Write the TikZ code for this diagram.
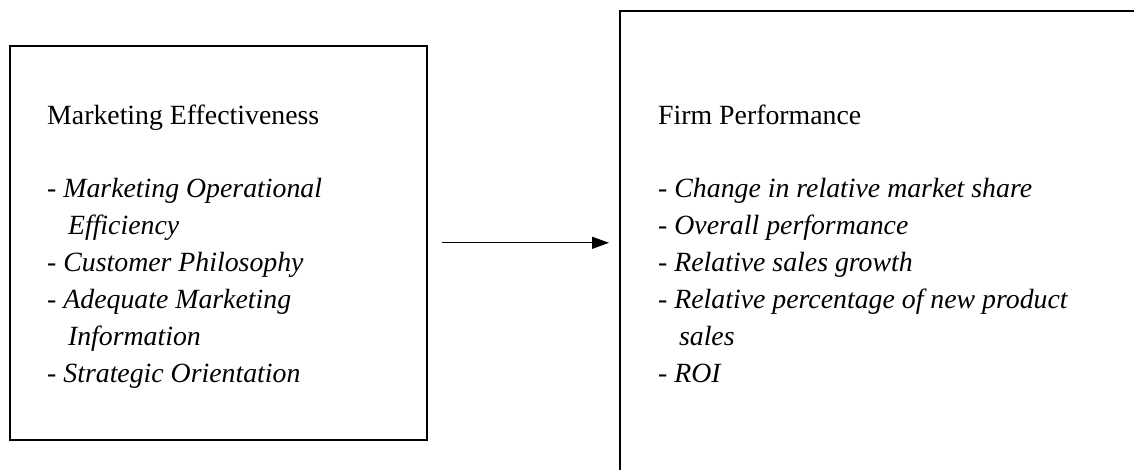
\documentclass[tikz,border=0pt]{standalone}
\usepackage{fontspec}
\setmainfont{Liberation Serif}
\usetikzlibrary{arrows.meta}
\begin{document}
\begin{tikzpicture}[x=1pt,y=-1pt,
  boxframe/.style={draw=black, line width=1.6pt, rectangle, inner sep=0pt, anchor=north west},
  head/.style={anchor=base west, inner sep=0pt, font=\fontsize{27.8}{36}\selectfont},
  item/.style={anchor=base west, inner sep=0pt, font=\fontsize{27.8}{36}\selectfont\itshape},
  link/.style={line width=1.3pt, -{Triangle[length=17pt,width=12pt]}}]
\useasboundingbox[fill=white] (0,0) rectangle (1134,469);
\clip (0,0) rectangle (1134,469);
\node[boxframe, minimum width=417pt, minimum height=394pt] (me) at (9,45) {};
\node[boxframe, minimum width=600pt, minimum height=520pt] (fp) at (619,10) {};
% left box text
\node[head] (meh) at (47,124) {Marketing Effectiveness};
\node[item] (me1) at (47,197) {- Marketing Operational};
\node[item] (me2) at (47,234) {\hphantom{- }\,Efficiency};
\node[item] (me3) at (47,271) {- Customer Philosophy};
\node[item] (me4) at (47,308) {- Adequate Marketing};
\node[item] (me5) at (47,345) {\hphantom{- }\,Information};
\node[item] (me6) at (47,382) {- Strategic Orientation};
% right box text
\node[head] (fph) at (658,124) {Firm Performance};
\node[item] (fp1) at (658,197) {- Change in relative market share};
\node[item] (fp2) at (658,234) {- Overall performance};
\node[item] (fp3) at (658,271) {- Relative sales growth};
\node[item] (fp4) at (658,308) {- Relative percentage of new product};
\node[item] (fp5) at (658,345) {\hphantom{- }\,sales};
\node[item] (fp6) at (658,382) {- ROI};
% connector
\draw[link] ([xshift=14pt]me.east) -- ([xshift=-10pt]me.east -| fp.west);
\end{tikzpicture}
\end{document}
